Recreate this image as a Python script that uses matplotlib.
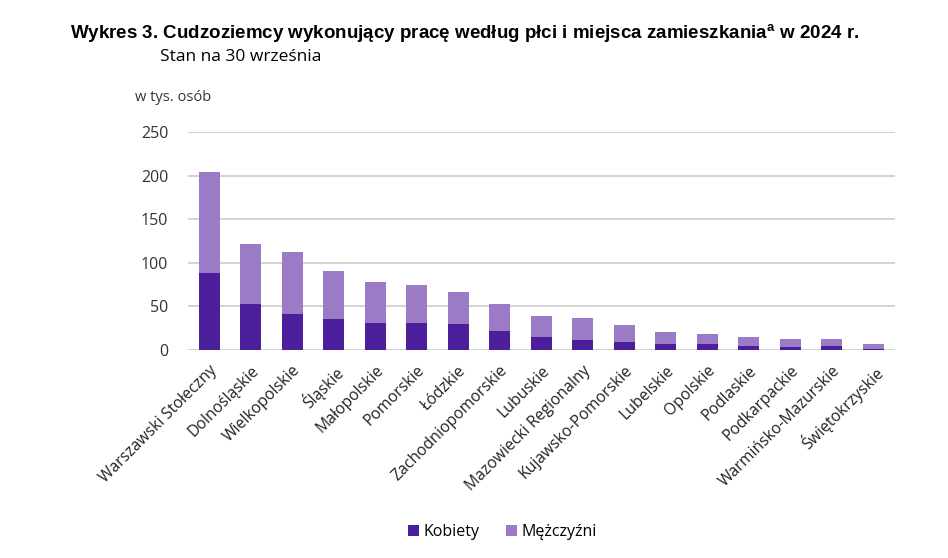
import matplotlib.pyplot as plt
import numpy as np

plt.rcParams['font.family'] = ['Open Sans', 'DejaVu Sans']

# Dane (w tys. osób)
regiony = ['Warszawski Stołeczny', 'Dolnośląskie', 'Wielkopolskie', 'Śląskie',
           'Małopolskie', 'Pomorskie', 'Łódzkie', 'Zachodniopomorskie',
           'Lubuskie', 'Mazowiecki Regionalny', 'Kujawsko-Pomorskie',
           'Lubelskie', 'Opolskie', 'Podlaskie', 'Podkarpackie',
           'Warmińsko-Mazurskie', 'Świętokrzyskie']
ogolem = [204, 121.5, 112, 90.7, 77.7, 74.3, 67, 52.2, 39, 36.3, 28.2,
          20.2, 18, 15.3, 13, 13, 7.3]
kobiety = [88, 53, 41, 35.6, 31, 31, 29.5, 22.3, 15.3, 11.8, 9.5,
           6.5, 6.5, 5, 3.8, 5, 1.5]
mezczyzni = [o - k for o, k in zip(ogolem, kobiety)]
yticks = [0, 50, 100, 150, 200, 250]

c_k = '#4b1f9b'
c_m = '#9b7bc6'

fig = plt.figure(figsize=(9.48, 5.58), dpi=100)
ax = fig.add_axes([0.198, 0.3728, 0.746, 0.3906])

x = np.arange(len(regiony))
ax.bar(x, kobiety, width=0.5, color=c_k, label='Kobiety', zorder=3)
ax.bar(x, mezczyzni, width=0.5, bottom=kobiety, color=c_m, label='Mężczyźni', zorder=3)

ax.set_xlim(-0.52, len(regiony) - 0.48)
ax.set_ylim(0, 250)
ax.set_yticks(yticks)
ax.yaxis.grid(True, color='#d0d0d0', linewidth=1.3, zorder=0)
ax.tick_params(axis='y', length=0, pad=14, labelsize=11.5, colors='#333333')
ax.tick_params(axis='x', length=0, pad=9)
ax.set_xticks(x)
ax.set_xticklabels(regiony, rotation=45, ha='right', rotation_mode='anchor',
                   fontsize=11.3, color='#222222')
for s in ax.spines.values():
    s.set_visible(False)

fig.text(0.074, 0.94, 'Wykres 3. Cudzoziemcy wykonujący pracę według płci i miejsca zamieszkania$^{\\mathregular{a}}$ w 2024 r.',
         fontsize=13.5, fontweight='bold', va='center', ha='left',
         family=['Liberation Sans', 'DejaVu Sans'])
fig.text(0.169, 0.897, 'Stan na 30 września', fontsize=12.5, va='center', ha='left')
fig.text(0.142, 0.826, 'w tys. osób', fontsize=10.5, va='center', ha='left', color='#333333')

fig.legend(loc='center', bbox_to_anchor=(0.53, 0.047), ncol=2, frameon=False,
           fontsize=11.5, handlelength=0.7, handleheight=0.7, handletextpad=0.3,
           columnspacing=1.6)

fig.savefig('out.png', dpi=100)
